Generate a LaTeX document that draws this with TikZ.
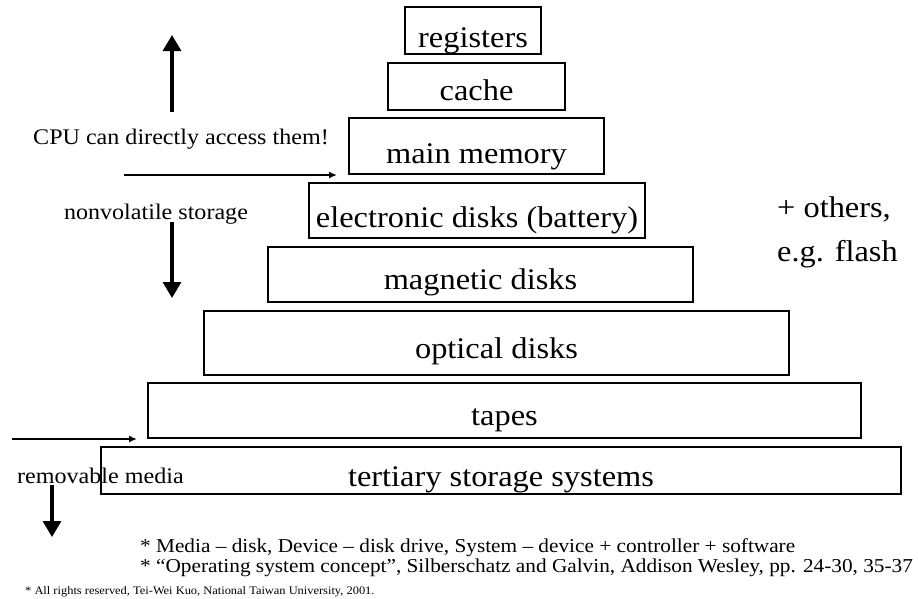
\documentclass[tikz,border=0pt]{standalone}
\usepackage{fontspec}
\setmainfont{Liberation Serif}[FakeStretch=1.08]
\usetikzlibrary{arrows.meta}
\begin{document}
\begin{tikzpicture}[x=1pt,y=-1pt,
  tier/.style={draw, line width=2pt, inner xsep=0pt, inner ysep=0pt, outer sep=0pt,
    font=\fontsize{30}{30}\selectfont},
  bigarrow/.style={line width=3.3pt, -{Triangle[length=16pt,width=18pt]}},
  thinarrow/.style={line width=1.7pt, -{Latex[length=8pt,width=7pt]}},
  sidetext/.style={inner sep=0pt, font=\fontsize{22.3}{22.3}\selectfont},
  notetext/.style={inner sep=0pt, anchor=base west, font=\fontsize{19.7}{19.7}\selectfont},
  othertext/.style={inner sep=0pt, anchor=base west, font=\fontsize{30}{30}\selectfont}]

% page
\fill[white] (0,0) rectangle (918,598);
\useasboundingbox (0,0) rectangle (918,598);

% storage hierarchy, fastest on top
\node[tier, minimum width=136pt, text height=40pt, text depth=7pt]  (reg)  at (473,30.5)  {registers};
\node[tier, minimum width=177pt, text height=37pt, text depth=10pt] (cache) at (476.5,86.5) {cache};
\node[tier, minimum width=255pt, text height=45pt, text depth=11pt] (main) at (476.5,146)  {main memory};
\node[tier, minimum width=336pt, text height=44pt, text depth=11pt] (elec) at (477,210.5)  {electronic disks (battery)};
\node[tier, minimum width=425pt, text height=42pt, text depth=13pt] (mag)  at (480.5,274.5) {magnetic disks};
\node[tier, minimum width=585pt, text height=47pt, text depth=17pt] (opt)  at (496.5,343)  {optical disks};
\node[tier, minimum width=713pt, text height=42pt, text depth=13pt] (tape) at (504.5,410.5) {tapes};
\node[tier, minimum width=800pt, text height=39pt, text depth=8pt]  (tert) at (501,470.5)  {tertiary storage systems};

% side notes
\node[sidetext, anchor=base] (cpu) at (181,144) {CPU can directly access them!};
\node[sidetext, anchor=base] (nonvol) at (156,219) {nonvolatile storage};
\node[sidetext, anchor=base west] (remov) at (17,483) {removable media};

\node[othertext] (others) at (777,217) {+ others,};
\node[othertext] (flash) at (777,261) {e.g. flash};

% arrows
\coordinate (upA) at (172,112);   \coordinate (upB) at (172,35);
\coordinate (dnA) at (172,222);   \coordinate (dnB) at (172,298);
\coordinate (rmA) at (52,485);    \coordinate (rmB) at (52,537);
\coordinate (cutA) at (124,175);  \coordinate (cutB) at (337,175);
\coordinate (cut2A) at (12,439);  \coordinate (cut2B) at (137,439);

\draw[bigarrow] (upA) -- (upB);
\draw[bigarrow] (dnA) -- (dnB);
\draw[bigarrow] (rmA) -- (rmB);
\draw[thinarrow] (cutA) -- (cutB);
\draw[thinarrow] (cut2A) -- (cut2B);

% footnotes
\node[notetext] (note1) at (140,552) {* Media – disk, Device – disk drive, System – device + controller + software};
\node[notetext] (note2) at (140,572) {* “Operating system concept”, Silberschatz and Galvin, Addison Wesley, pp. 24-30, 35-37};
\node[inner sep=0pt, anchor=base west, font=\fontsize{11.5}{11.5}\selectfont] (rights) at (25,594)
  {* All rights reserved, Tei-Wei Kuo, National Taiwan University, 2001.};
\end{tikzpicture}
\end{document}
